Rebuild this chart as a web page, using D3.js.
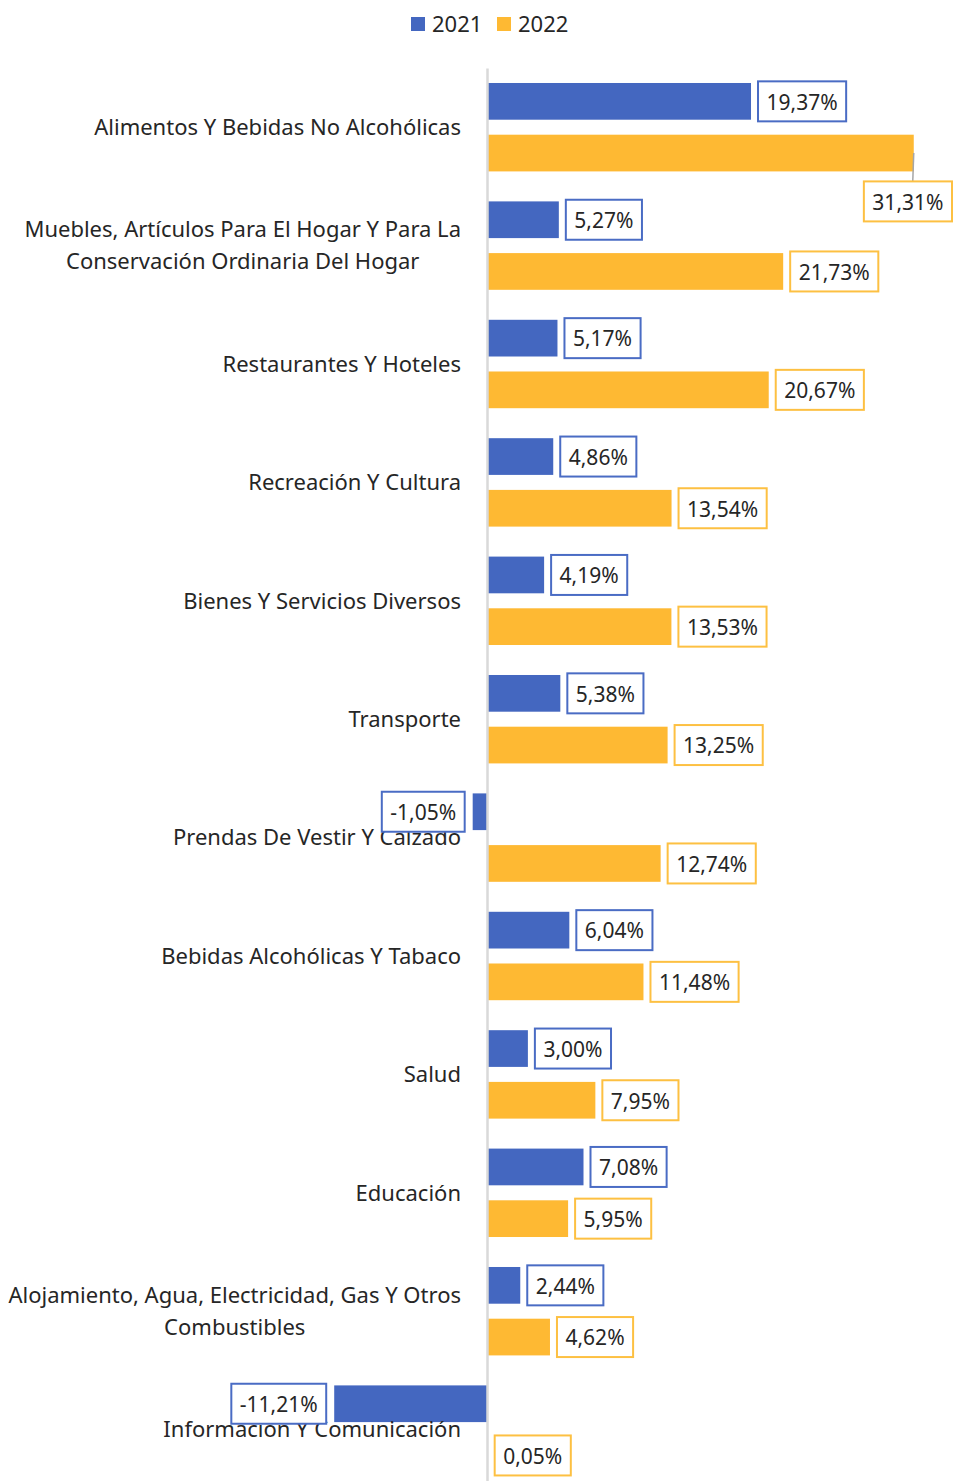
<!DOCTYPE html>
<html>
<head>
<meta charset="utf-8">
<script src="https://cdn.jsdelivr.net/npm/d3@7"></script>
<style>
  body { margin: 0; background: #fff; }
  svg { display: block; font-family: "Noto Sans", "Open Sans", sans-serif; }
</style>
</head>
<body>
<div id="chart"></div>
<script>
(function () {
  'use strict';

  /* ---------- Data ---------- */
  const categories = [
    'Alimentos Y Bebidas No Alcohólicas',
    'Muebles, Artículos Para El Hogar Y Para La\nConservación Ordinaria Del Hogar',
    'Restaurantes Y Hoteles',
    'Recreación Y Cultura',
    'Bienes Y Servicios Diversos',
    'Transporte',
    'Prendas De Vestir Y Calzado',
    'Bebidas Alcohólicas Y Tabaco',
    'Salud',
    'Educación',
    'Alojamiento, Agua, Electricidad, Gas Y Otros\nCombustibles',
    'Información Y Comunicación'
  ];
  const series = ['2021', '2022'];
  const values2021 = [19.37, 5.27, 5.17, 4.86, 4.19, 5.38, -1.05, 6.04, 3.00, 7.08, 2.44, -11.21];
  const values2022 = [31.31, 21.73, 20.67, 13.54, 13.53, 13.25, 12.74, 11.48, 7.95, 5.95, 4.62, 0.05];

  /* ---------- Colours ---------- */
  const palette = { '2021': '#4467c0', '2022': '#feb933' };
  const boxStroke = { '2021': '#4a6cc4', '2022': '#fdc042' };
  const textColor = '#262626';

  /* ---------- Size ---------- */
  const W = 953, H = 1481;
  const zeroX = 487;
  const pxPerUnit = 13.63;

  const svg = d3.select('#chart').append('svg')
    .attr('width', W).attr('height', H);

  const x = d3.scaleLinear()
    .domain([-11.21, 31.31])
    .range([zeroX - 11.21 * pxPerUnit, zeroX + 31.31 * pxPerUnit]);

  const y = d3.scaleBand()
    .domain(categories)
    .range([68, 68 + 118.4 * categories.length])
    .paddingInner(0).paddingOuter(0);

  const y1 = d3.scaleBand()
    .domain(series)
    .range([0, y.bandwidth()])
    .padding(0.29);

  const rows = categories.map((c, i) => ({ cat: c, '2021': values2021[i], '2022': values2022[i] }));

  /* ---------- Legend ---------- */
  const legend = svg.append('g').attr('class', 'legend');
  const legendX = { '2021': 411, '2022': 497 };
  series.forEach(s => {
    legend.append('rect')
      .attr('x', legendX[s]).attr('y', 17).attr('width', 14).attr('height', 14)
      .attr('fill', palette[s]);
    legend.append('text')
      .attr('x', legendX[s] + 21).attr('y', 32)
      .attr('font-size', '22px').attr('fill', textColor)
      .text(s);
  });

  /* ---------- Bars ---------- */
  const groups = svg.append('g').attr('class', 'bars')
    .selectAll('g')
    .data(rows)
    .join('g')
    .attr('transform', d => `translate(0,${y(d.cat)})`);

  groups.selectAll('rect')
    .data(d => series.map(s => ({ s, v: d[s] })))
    .join('rect')
    .attr('x', d => Math.min(x(0), x(d.v)))
    .attr('y', d => y1(d.s))
    .attr('width', d => Math.max(Math.abs(x(d.v) - x(0)), 1))
    .attr('height', y1.bandwidth())
    .attr('fill', d => palette[d.s]);

  /* ---------- Axis ---------- */
  const pad = 26;
  const axis = svg.append('g')
    .attr('transform', `translate(${zeroX},0)`)
    .call(d3.axisLeft(y).tickSize(0).tickPadding(pad));

  axis.select('.domain').attr('stroke', '#d9d9d9').attr('stroke-width', 2.5);
  axis.selectAll('.tick text')
    .attr('font-size', '22px')
    .attr('font-family', '"Noto Sans", "Open Sans", sans-serif')
    .attr('fill', textColor)
    .each(function (d) {
      const lines = d.split('\n');
      const t = d3.select(this).text(null).attr('dy', null);
      const lh = 32;
      const spans = lines.map((ln, i) => t.append('tspan')
        .attr('y', (i - (lines.length - 1) / 2) * lh)
        .attr('dy', '0.35em')
        .text(ln));
      // block is centred, its right edge sits at the tick padding
      const maxW = d3.max(spans, sp => sp.node().getComputedTextLength());
      t.attr('text-anchor', 'middle');
      spans.forEach(sp => sp.attr('x', -pad - maxW / 2));
    });

  /* ---------- Data labels ---------- */
  const fmt = v => v.toFixed(2).replace('.', ',') + '%';
  const labelG = svg.append('g').attr('class', 'labels');

  rows.forEach(r => {
    series.forEach(s => {
      const v = r[s];
      const g = labelG.append('g');
      const rect = g.append('rect')
        .attr('fill', '#fff')
        .attr('stroke', boxStroke[s])
        .attr('stroke-width', 2);
      const txt = g.append('text')
        .attr('font-size', '21px')
        .attr('fill', textColor)
        .attr('text-anchor', 'middle')
        .attr('dy', '0.35em')
        .text(fmt(v));
      const tw = txt.node().getComputedTextLength();
      const bw = tw + 17, bh = 40;
      const barY = y(r.cat) + y1(s) + y1.bandwidth() / 2;
      let bx = v >= 0 ? x(v) + 7 : x(v) - 8 - bw;
      let by = barY - bh / 2;
      if (bx + bw > W) {
        // doesn't fit: put it under the bar end with a leader line
        bx = W - 1 - bw;
        by = barY + y1.bandwidth() / 2 + 10;
        labelG.insert('line', ':first-child')
          .attr('x1', x(v)).attr('y1', barY)
          .attr('x2', x(v) - 1).attr('y2', by)
          .attr('stroke', '#a6a6a6').attr('stroke-width', 1.5);
      }
      rect.attr('x', bx).attr('y', by).attr('width', bw).attr('height', bh);
      txt.attr('x', bx + bw / 2).attr('y', by + bh / 2 + 1);
    });
  });
})();
</script>
</body>
</html>
